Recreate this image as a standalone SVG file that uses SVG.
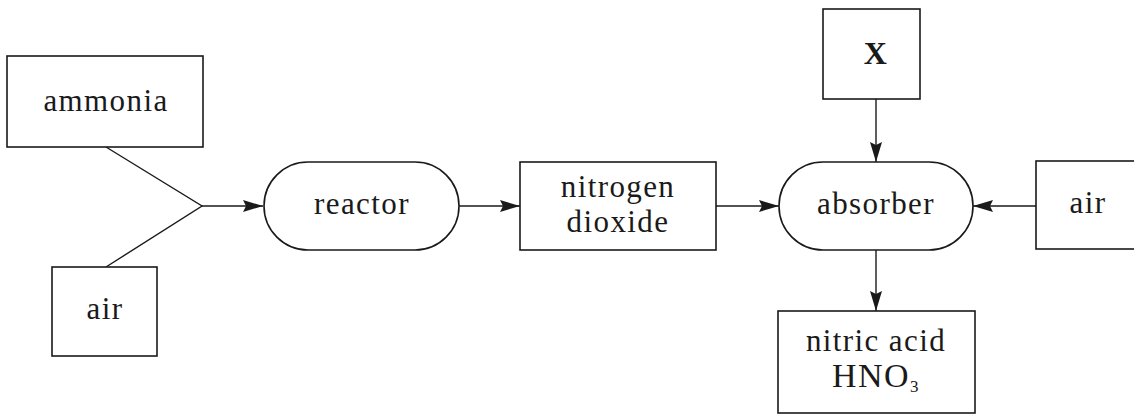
<svg xmlns="http://www.w3.org/2000/svg" width="1134" height="414" viewBox="0 0 1134 414">
<defs>
<style>
.box{fill:#fff;stroke:#1a1a1a;stroke-width:1.6}
.ln{fill:none;stroke:#1a1a1a;stroke-width:1.4}
.t{font-family:"Liberation Serif","Times New Roman",serif;font-size:31px;letter-spacing:1.4px;fill:#1a1a1a;text-anchor:middle}
</style>
<marker id="ah" viewBox="0 0 20 12" refX="20" refY="6" markerWidth="20" markerHeight="12" markerUnits="userSpaceOnUse" orient="auto">
<path d="M0,0 L20,6 L0,12 L3,6 Z" fill="#1a1a1a"/>
</marker>
</defs>
<rect width="1134" height="414" fill="#fff"/>
<g id="connectors">
<path class="ln" d="M106,147 L202,206 L106,267"/>
<line class="ln" x1="202" y1="206" x2="263" y2="206" marker-end="url(#ah)"/>
<line class="ln" x1="459" y1="206" x2="520" y2="206" marker-end="url(#ah)"/>
<line class="ln" x1="716" y1="206" x2="779" y2="206" marker-end="url(#ah)"/>
<line class="ln" x1="876" y1="99" x2="876" y2="162" marker-end="url(#ah)"/>
<line class="ln" x1="1036" y1="206" x2="973" y2="206" marker-end="url(#ah)"/>
<line class="ln" x1="876" y1="250" x2="876" y2="311" marker-end="url(#ah)"/>
</g>
<g id="ammonia">
<rect class="box" x="7" y="56" width="196" height="91"/>
<text class="t" x="106" y="111">ammonia</text>
</g>
<g id="air-left">
<rect class="box" x="52" y="267" width="105" height="89"/>
<text class="t" x="105" y="319">air</text>
</g>
<g id="reactor">
<rect class="box" x="264" y="162" width="195" height="88" rx="44" ry="44"/>
<text class="t" x="362" y="214">reactor</text>
</g>
<g id="nitrogen-dioxide">
<rect class="box" x="520" y="162" width="196" height="88"/>
<text class="t" x="618" y="197">nitrogen</text>
<text class="t" x="618" y="232">dioxide</text>
</g>
<g id="x">
<rect class="box" x="823" y="9" width="97" height="90"/>
<text class="t" x="876" y="64" style="font-weight:bold;font-size:32px">X</text>
</g>
<g id="absorber">
<rect class="box" x="779" y="162" width="194" height="88" rx="44" ry="44"/>
<text class="t" x="876" y="214">absorber</text>
</g>
<g id="air-right">
<rect class="box" x="1036" y="161" width="110" height="88"/>
<text class="t" x="1088" y="213">air</text>
</g>
<g id="nitric-acid">
<rect class="box" x="778" y="311" width="197" height="102"/>
<text class="t" x="876" y="351">nitric acid</text>
<text class="t" x="876" y="387" style="font-size:34px">HNO<tspan dy="5" style="font-size:17px">3</tspan></text>
</g>
</svg>
